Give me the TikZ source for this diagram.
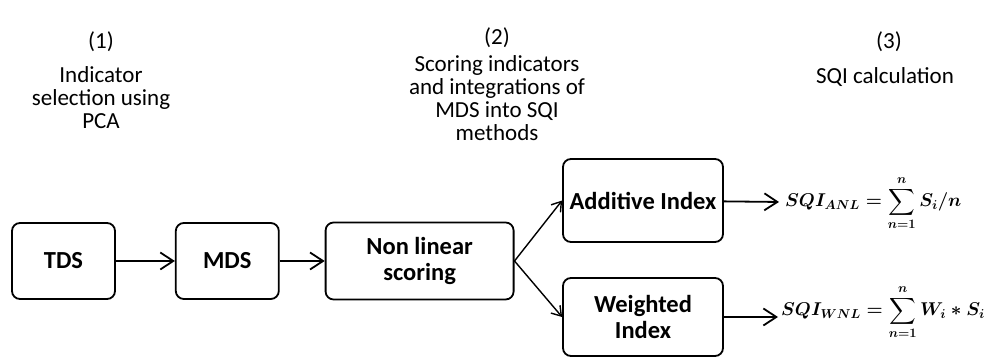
\RequirePackage{fix-cm}
\documentclass[tikz,border=0pt]{standalone}
\usepackage{amsmath, amssymb}
\usepackage{fontspec}
\setmainfont{Carlito}
\usepackage{tikz}
\usetikzlibrary{arrows.meta,positioning}

\begin{document}
\begin{tikzpicture}[
  x=1pt, y=1pt,
  font=\fontsize{23}{23}\selectfont,
  box/.style={
    draw,
    line width=1.8pt,
    rounded corners=8pt,
    align=center,
    font=\fontsize{24.5}{26}\selectfont\bfseries,
    inner sep=4pt,
  },
  flow/.style={-{Straight Barb[length=13pt, width=17pt, line width=1.8pt]}, line width=1.8pt},
  split/.style={-{Straight Barb[length=9pt, width=12pt, line width=1.4pt]}, line width=1.4pt},
  steplabel/.style={align=center},
  formula/.style={inner sep=0pt, anchor=west, font=\fontsize{18.5}{22}\selectfont},
]
\useasboundingbox (0,0) rectangle (1007,358);

% stage headings
\node[steplabel] (num_sel) at (101,316) {(1)};
\node[steplabel, below=7pt of num_sel] (txt_sel) {Indicator\\selection using\\PCA};
\node[steplabel] (num_score) at (497,320) {(2)};
\node[steplabel, below=0pt of num_score] (txt_score) {Scoring indicators\\and integrations of\\MDS into SQI\\methods};
\node[steplabel] (num_sqi) at (889,316) {(3)};
\node[steplabel, below=8pt of num_sqi, xshift=-4pt] (txt_sqi) {SQI calculation};

% pipeline
\node[box, minimum width=103pt, minimum height=76pt] (tds) at (63.5,97) {TDS};
\node[box, minimum width=103pt, minimum height=76pt, right=59pt of tds] (mds) {MDS};
\node[box, minimum width=188pt, minimum height=77pt, right=45pt of mds] (nls) {Non linear\\scoring};
\node[box, minimum width=160pt, minimum height=83pt] (additive) at (643,157.5) {Additive Index};
\node[box, minimum width=160pt, minimum height=78pt] (weighted) at (643,41) {Weighted\\Index};

\node[formula] (sqi_anl) at (785,155) {$\boldsymbol{SQI_{ANL} = \displaystyle\sum_{n=1}^{n} S_i/n}$};
\node[formula] (sqi_wnl) at (781,46) {$\boldsymbol{SQI_{WNL} = \displaystyle\sum_{n=1}^{n} W_i * S_i}$};

\draw[flow] (tds) -- (mds);
\draw[flow] (mds) -- (nls);
\draw[split] (nls.east) -- (additive.west);
\draw[split] (nls.east) -- (weighted.west);
\draw[flow, shorten >=6pt] (additive) -- (sqi_anl);
\draw[flow, shorten >=3pt] (weighted) -- (sqi_wnl.west |- weighted.east);

\end{tikzpicture}
\end{document}
